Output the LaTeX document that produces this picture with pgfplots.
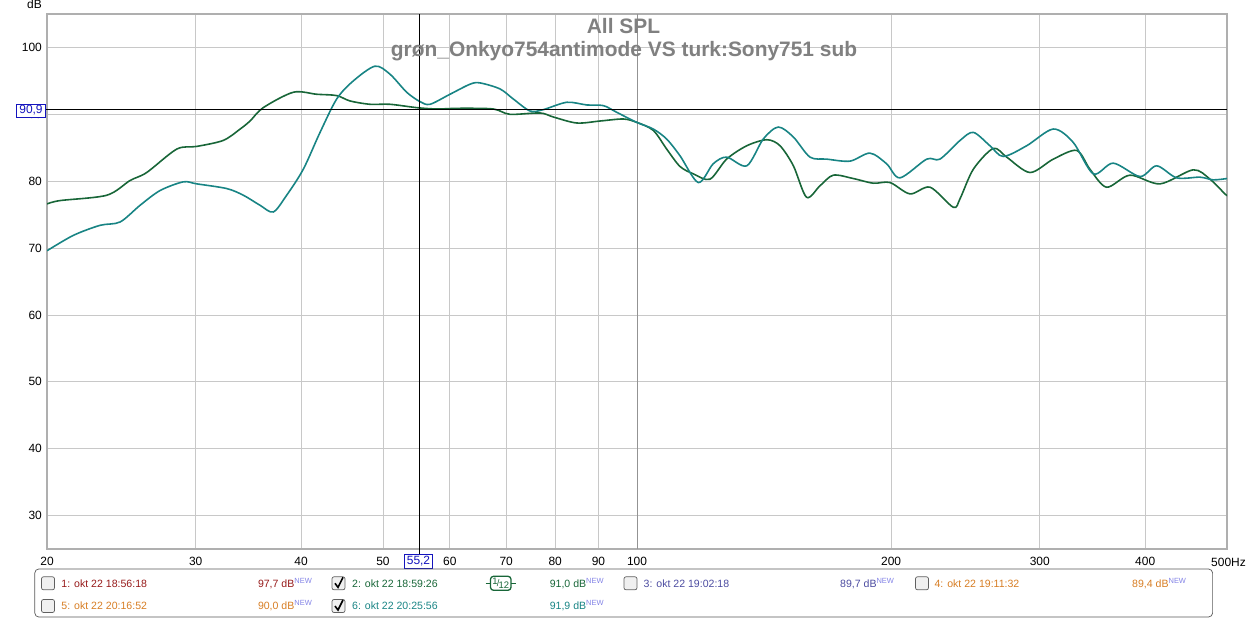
\documentclass[border=0pt]{standalone}
\usepackage{pgfplots}
\pgfplotsset{compat=1.18}
\usepackage{fontspec}
\setmainfont{Liberation Sans}
\definecolor{cgreen}{RGB}{24,102,56}
\definecolor{cteal}{RGB}{24,132,132}
\definecolor{cgrid}{RGB}{200,200,200}
\definecolor{cframe}{RGB}{175,175,175}
\definecolor{ctitle}{RGB}{128,128,128}
\definecolor{cred}{RGB}{150,25,25}
\definecolor{cblue}{RGB}{75,75,160}
\definecolor{corange}{RGB}{215,125,35}
\definecolor{cnew}{RGB}{130,130,230}
\definecolor{ccur}{RGB}{20,20,190}
\newcommand{\tf}{\fontsize{12}{13}\selectfont}
\newcommand{\lf}{\fontsize{10.6}{11}\selectfont}
\newcommand{\NEW}{\raisebox{3.8bp}{\fontsize{7.5}{7.5}\selectfont\color{cnew}NEW}}
\newcommand{\cbox}[2]{\draw[gray!75!black, fill=gray!12, rounded corners=2bp, line width=0.7bp] (#1,#2-6.5) rectangle ++(13,13);}
\newcommand{\cmark}[2]{\draw[black, line width=1.6bp] (#1+3,#2) -- (#1+6,#2+4) -- (#1+11,#2-6);}
\newcommand{\oct}[3]{%
  \draw[#1, line width=1.3bp, rounded corners=3bp] (490.5,#2-7) rectangle (511,#2+7);
  \draw[#1, line width=1.3bp] (485.6,#2) -- (490.5,#2) (511,#2) -- (516,#2);
  \node[text=#1, inner sep=0, font=\fontsize{9.5}{9.5}\selectfont] at (500.7,#2) {\raisebox{1.8bp}{1}\kern-0.8bp/\kern-0.8bp\raisebox{-1.8bp}{12}};}
\begin{document}
\begin{tikzpicture}
\path[use as bounding box] (0,0) rectangle (1249bp,-620bp);
\begin{axis}[at={(47bp,-549bp)}, anchor=south west, scale only axis,
  width=1180bp, height=535bp,
  xmode=log, xmin=20, xmax=500, ymin=25, ymax=105,
  xtick={20,30,40,50,60,70,80,90,100,200,300,400},
  xticklabels={20,30,40,50,60,70,80,90,100,200,300,400},
  ytick={30,40,...,100},
  grid=major, major grid style={cgrid, line width=0.8bp},
  minor tick num=0, major tick length=0pt,
  axis line style={cframe, line width=2.5bp},
  /pgf/number format/assume math mode=true,
  tick label style={font=\tf},
  xticklabel style={anchor=north, inner sep=0pt, yshift=-8bp},
  yticklabel style={anchor=east, inner sep=0pt, xshift=-5bp},
  clip=true,
]
\draw[gray!85, line width=0.9bp] (axis cs:100,25) -- (axis cs:100,105);
\addplot[cgreen, line width=1.6bp, smooth] coordinates {
(20,76.6) (20.72,77.1) (23.54,77.9) (25.08,80.1) (26.25,81.3) (28.49,84.8)
(30.09,85.2) (32.35,86.1) (33.87,87.8) (34.80,89.0) (36.08,91.0) (39.16,93.3)
(41.74,93.0) (44.08,92.8) (45.70,92.0) (48.27,91.5) (50.97,91.5) (54.82,91.0)
(57.90,90.8) (61.70,90.9) (67.56,90.8) (70.71,90.0) (76.75,90.2) (79.59,89.6)
(84.85,88.7) (90.42,89.0) (96.33,89.3) (99.91,88.8) (104.53,87.6) (108.43,84.8)
(112.44,82.2) (116.6,81.1) (122.0,80.3) (127.7,83.3) (134.9,85.3) (142.5,86.2)
(147.7,85.3) (153.2,82.3) (158.8,77.6) (164.7,79.3) (170.8,80.9) (180.4,80.4)
(190.5,79.7) (199.4,79.8) (210.6,78.1) (222.4,79.1) (237.0,76.1) (241.4,77.4)
(250.3,81.8) (264.3,84.9) (274.1,83.6) (292.1,81.3) (311.3,83.3) (331.8,84.6)
(344.0,81.8) (360.0,79.1) (383.7,80.9) (416.5,79.6) (456.0,81.7) (477.3,80.3)
(497.2,78.1) (500,77.9)
};
\addplot[cteal, line width=1.6bp, smooth] coordinates {
(20,69.6) (21.49,71.9) (23.11,73.4) (24.41,73.9) (25.78,76.4) (27.22,78.6)
(29.0,79.9) (30.09,79.6) (32.65,78.9) (34.17,77.9) (35.76,76.4) (37.08,75.4)
(38.46,77.9) (40.24,81.8) (42.12,87.3) (44.08,92.3) (46.12,95.0) (48.93,97.2)
(50.97,96.0) (53.35,93.3) (55.32,91.9) (56.85,91.5) (60.04,93.0) (63.40,94.5)
(65.15,94.7) (68.81,93.8) (71.35,92.3) (74.69,90.5) (77.45,90.7) (82.57,91.8)
(87.20,91.4) (91.24,91.3) (94.62,90.3) (99.91,88.8) (104.53,87.8) (108.43,86.3)
(112.44,83.8) (118.2,79.8) (123.1,82.6) (127.7,83.6) (134.9,82.3) (141.1,86.3)
(147.0,88.1) (153.2,86.6) (160.3,83.6) (167.8,83.3) (178.8,83.0) (188.8,84.2)
(197.6,82.6) (204.9,80.5) (220.4,83.3) (228.5,83.3) (241.4,86.1) (250.3,87.3)
(261.9,85.3) (271.6,83.7) (289.5,85.3) (311.3,87.8) (328.7,85.8) (347.2,81.1)
(366.6,82.7) (394.4,80.7) (412.7,82.3) (435.9,80.5) (464.4,80.6) (481.6,80.2)
(500,80.4)
};
\end{axis}
\begin{scope}[x=1bp, y=-1bp]
% cursor
\draw[black, line width=0.8bp] (419,14) -- (419,554);
\draw[black, line width=0.8bp] (45,109) -- (1227,109);
\node[draw=ccur, fill=white, text=ccur, font=\tf, inner sep=0pt, line width=0.8bp,
  minimum width=28.5bp, minimum height=13bp] at (31,110.5) {90,9};
\node[draw=ccur, fill=white, text=ccur, font=\tf, inner sep=0pt, line width=0.8bp,
  minimum width=28.5bp, minimum height=14bp] at (418.5,561.5) {55,2};
% titles
\node[anchor=base, font=\fontsize{21}{21}\selectfont\bfseries, text=ctitle, inner sep=0] at (623.5,33) {All SPL};
\node[anchor=base, font=\fontsize{21}{21}\selectfont\bfseries, text=ctitle, inner sep=0] at (624,56) {grøn\_Onkyo754antimode VS turk:Sony751 sub};
\node[anchor=base, font=\tf, inner sep=0] at (34.5,8.5) {dB};
\node[anchor=base east, font=\tf, inner sep=0] at (1246,566) {500Hz};
% legend
\draw[gray!70!black, rounded corners=4bp, line width=0.7bp] (34.8,569) rectangle (1212.6,617);
\cbox{41.5}{583.3}
\cbox{332}{583.3}\cmark{332}{583.3}
\cbox{624}{583.3}
\cbox{915.5}{583.3}
\cbox{41.5}{606}
\cbox{332}{606}\cmark{332}{606}
\begin{scope}[every node/.style={anchor=base west, inner sep=0, font=\lf}]
\node[text=cred] at (61.3,587) {1: okt 22 18:56:18};
\node[text=cred] at (257.8,587) {97,7 dB\NEW};
\node[text=cgreen] at (352,587) {2: okt 22 18:59:26};
\node[text=cgreen] at (549.6,587) {91,0 dB\NEW};
\node[text=cblue] at (643.5,587) {3: okt 22 19:02:18};
\node[text=cblue] at (840,587) {89,7 dB\NEW};
\node[text=corange] at (934.4,587) {4: okt 22 19:11:32};
\node[text=corange] at (1132,587) {89,4 dB\NEW};
\node[text=corange] at (61.3,609.6) {5: okt 22 20:16:52};
\node[text=corange] at (257.8,609.6) {90,0 dB\NEW};
\node[text=cteal] at (352,609.6) {6: okt 22 20:25:56};
\node[text=cteal] at (549.6,609.6) {91,9 dB\NEW};
\end{scope}
\oct{cgreen}{583.3}
\oct{cteal}{606}
\end{scope}
\end{tikzpicture}
\end{document}
